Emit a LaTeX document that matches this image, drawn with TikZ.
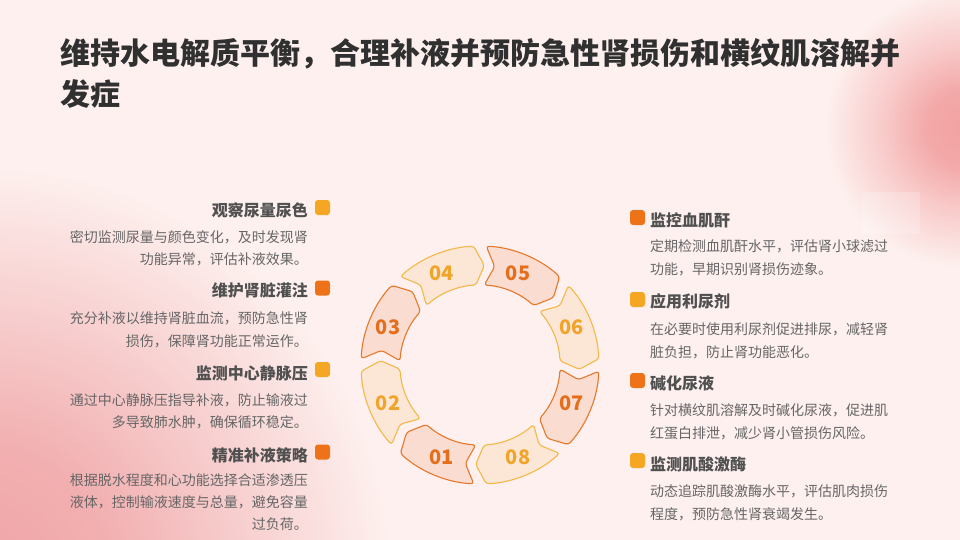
\documentclass[tikz,border=0pt]{standalone}
\usepackage{fontspec}
\setmainfont{Noto Sans CJK SC}
\usetikzlibrary{calc}
\definecolor{bgc}{HTML}{FDF0EE}
\definecolor{pkTR}{HTML}{F2A0A0}
\definecolor{pkBL}{HTML}{F0A4A6}
\definecolor{titlec}{HTML}{303030}
\definecolor{headc}{HTML}{505050}
\definecolor{bodyc}{HTML}{666666}
\definecolor{dkc}{HTML}{EE7218}
\definecolor{ylc}{HTML}{F5A623}
\definecolor{dkline}{HTML}{E6782C}
\definecolor{dkfill}{HTML}{FADCD0}
\definecolor{dktext}{HTML}{E56E1C}
\definecolor{ylline}{HTML}{F4B848}
\definecolor{ylfill}{HTML}{FCE7D6}
\definecolor{yltext}{HTML}{F0A52A}
\pgfdeclareradialshading{blobTR}{\pgfpoint{0bp}{0bp}}{color(0bp)=(pkTR); color(7bp)=(pkTR!88!bgc); color(15bp)=(pkTR!45!bgc); color(25bp)=(bgc); color(50bp)=(bgc)}
\pgfdeclareradialshading{blobBL}{\pgfpoint{0bp}{0bp}}{color(0bp)=(pkBL); color(8bp)=(pkBL!85!bgc); color(16bp)=(pkBL!45!bgc); color(25bp)=(bgc); color(50bp)=(bgc)}
\tikzset{
  titletext/.style={anchor=base west, inner sep=0, text=titlec, font=\fontsize{30}{36}\selectfont\bfseries},
  headL/.style={anchor=base east, inner sep=0, text=headc, font=\fontsize{16}{19}\selectfont\bfseries},
  headR/.style={anchor=base west, inner sep=0, text=headc, font=\fontsize{16}{19}\selectfont\bfseries},
  bodyL/.style={anchor=base east, inner sep=0, text=bodyc, font=\fontsize{14}{17}\selectfont},
  bodyR/.style={anchor=base west, inner sep=0, text=bodyc, font=\fontsize{14}{17}\selectfont},
  sqbox/.style={minimum size=15pt, inner sep=0, rounded corners=3pt},
  sqdk/.style={sqbox, fill=dkc},
  sqyl/.style={sqbox, fill=ylc},
  segdk/.style={draw=dkline, fill=dkfill, line width=1.1pt, rounded corners=3pt, line join=round},
  segyl/.style={draw=ylline, fill=ylfill, line width=1.1pt, rounded corners=3pt, line join=round},
  lbldk/.style={text=dktext, font=\fontsize{20}{24}\selectfont\bfseries, inner sep=0},
  lblyl/.style={text=yltext, font=\fontsize{20}{24}\selectfont\bfseries, inner sep=0},
}
\begin{document}
\begin{tikzpicture}[x=1pt,y=1pt]
\useasboundingbox (0,0) rectangle (960,-540);
\fill[bgc] (0,0) rectangle (960,-540);
\begin{scope}
\clip (0,0) rectangle (960,-540);
\shade[shading=blobTR] (965,-128) circle (140pt);
\shade[shading=blobBL] (-20,-575) circle (410pt);
\fill[white, opacity=0.22] (862,-192) rectangle (920,-234);
\end{scope}

% title
\node[titletext] (t1) at (60,-65) {维持水电解质平衡，合理补液并预防急性肾损伤和横纹肌溶解并};
\node[titletext] (t2) at (60,-106) {发症};

% left column
\node[sqyl] (sqL1) at (322.5,-207.5) {};
\node[headL] (hL1) at (308,-216) {观察尿量尿色};
\node[bodyL] (bL1a) at (308,-242) {密切监测尿量与颜色变化，及时发现肾};
\node[bodyL] (bL1b) at (308,-264) {功能异常，评估补液效果。};

\node[sqdk] (sqL2) at (322.5,-288) {};
\node[headL] (hL2) at (308,-296) {维护肾脏灌注};
\node[bodyL] (bL2a) at (308,-323) {充分补液以维持肾脏血流，预防急性肾};
\node[bodyL] (bL2b) at (308,-346) {损伤，保障肾功能正常运作。};

\node[sqyl] (sqL3) at (322.5,-369.5) {};
\node[headL] (hL3) at (308,-379) {监测中心静脉压};
\node[bodyL] (bL3a) at (308,-405) {通过中心静脉压指导补液，防止输液过};
\node[bodyL] (bL3b) at (308,-427) {多导致肺水肿，确保循环稳定。};

\node[sqdk] (sqL4) at (322.5,-452) {};
\node[headL] (hL4) at (308,-461) {精准补液策略};
\node[bodyL] (bL4a) at (308,-485) {根据脱水程度和心功能选择合适渗透压};
\node[bodyL] (bL4b) at (308,-507) {液体，控制输液速度与总量，避免容量};
\node[bodyL] (bL4c) at (308,-529) {过负荷。};

% right column
\node[sqdk] (sqR1) at (637.5,-217.5) {};
\node[headR] (hR1) at (650,-226) {监控血肌酐};
\node[bodyR] (bR1a) at (650,-251) {定期检测血肌酐水平，评估肾小球滤过};
\node[bodyR] (bR1b) at (650,-274) {功能，早期识别肾损伤迹象。};

\node[sqyl] (sqR2) at (637.5,-299.5) {};
\node[headR] (hR2) at (650,-307) {应用利尿剂};
\node[bodyR] (bR2a) at (650,-334) {在必要时使用利尿剂促进排尿，减轻肾};
\node[bodyR] (bR2b) at (650,-357) {脏负担，防止肾功能恶化。};

\node[sqdk] (sqR3) at (637.5,-380.5) {};
\node[headR] (hR3) at (650,-389) {碱化尿液};
\node[bodyR] (bR3a) at (650,-415) {针对横纹肌溶解及时碱化尿液，促进肌};
\node[bodyR] (bR3b) at (650,-438) {红蛋白排泄，减少肾小管损伤风险。};

\node[sqyl] (sqR4) at (637.5,-460.5) {};
\node[headR] (hR4) at (650,-470) {监测肌酸激酶};
\node[bodyR] (bR4a) at (650,-496) {动态追踪肌酸激酶水平，评估肌肉损伤};
\node[bodyR] (bR4b) at (650,-519) {程度，预防急性肾衰竭发生。};

% ring
\begin{scope}[shift={(480,-365)}]
\foreach \c/\lab/\kind in {247.5/01/dk, 202.5/02/yl, 157.5/03/dk, 112.5/04/yl, 67.5/05/dk, 22.5/06/yl, -22.5/07/dk, -67.5/08/yl}{
  \pgfmathsetmacro{\at}{\c+19.5}
  \pgfmathsetmacro{\ah}{\c-19.5}
  \pgfmathsetmacro{\ap}{\c-25}
  \pgfmathsetmacro{\an}{\c+14}
  \draw[seg\kind] (\at:119pt) arc[start angle=\at, end angle=\ah, radius=119pt]
    -- (\ap:99.5pt) -- (\ah:80pt)
    arc[start angle=\ah, end angle=\at, radius=80pt]
    -- (\an:99.5pt) -- cycle;
  \node[lbl\kind] (n\lab) at (\c:99.5pt) {\lab};
}
\end{scope}
\end{tikzpicture}
\end{document}
